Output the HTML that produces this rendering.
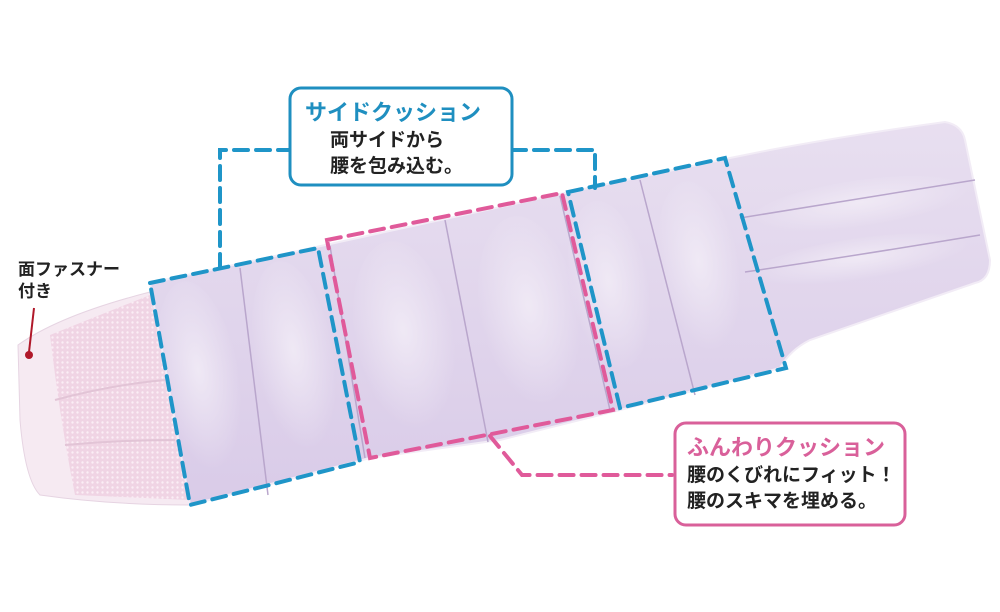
<!DOCTYPE html>
<html><head><meta charset="utf-8"><style>
html,body{margin:0;padding:0;background:#fff;}
svg{display:block}
text{font-family:"Liberation Sans","Noto Sans CJK JP",sans-serif;font-weight:bold}
</style></head><body>
<svg width="1000" height="612" viewBox="0 0 1000 612" xmlns="http://www.w3.org/2000/svg">
<defs>
<pattern id="mesh" width="5" height="5" patternUnits="userSpaceOnUse">
<rect width="5" height="5" fill="#f0d4e4"/><circle cx="2.5" cy="2.5" r="1.2" fill="#fbeef5"/>
</pattern>
<linearGradient id="lav" x1="0" y1="0" x2="0" y2="1">
<stop offset="0" stop-color="#e8dff0"/><stop offset="1" stop-color="#d9cbe8"/>
</linearGradient>
<radialGradient id="hl" cx="0.5" cy="0.45" r="0.5">
<stop offset="0" stop-color="#f1ebf6" stop-opacity="0.9"/><stop offset="1" stop-color="#f1ebf6" stop-opacity="0"/>
</radialGradient>
</defs>
<!-- left pad -->
<path d="M18,345 Q60,315 150,292 L190,505 Q110,505 40,495 Q25,480 20,420 Z" fill="#f6eaf2" stroke="#e6d4e2"/>
<path d="M50,335 L150,295 L190,500 L75,495 Q60,420 50,335 Z" fill="url(#mesh)"/>
<path d="M55,400 Q110,385 165,380 M65,445 Q120,440 175,440" stroke="#e2c4d6" stroke-width="2" fill="none"/>
<!-- lavender body -->
<path d="M150,283 L330,244 L560,194 L730,158 L770,150 Q850,135 945,122 Q962,125 965,140 L990,260 Q990,280 975,283 L810,340 Q790,350 780,368 L620,410 L500,440 L370,458 L190,505 Z" fill="url(#lav)" stroke="#f2ecf6" stroke-width="2"/>
<!-- pillow highlights -->
<g fill="url(#hl)">
<ellipse cx="200" cy="380" rx="40" ry="100" transform="rotate(-10 200 380)"/>
<ellipse cx="295" cy="360" rx="40" ry="100" transform="rotate(-10 295 360)"/>
<ellipse cx="405" cy="340" rx="50" ry="100" transform="rotate(-10 405 340)"/>
<ellipse cx="530" cy="315" rx="50" ry="100" transform="rotate(-10 530 315)"/>
<ellipse cx="610" cy="290" rx="40" ry="90" transform="rotate(-10 610 290)"/>
<ellipse cx="700" cy="270" rx="40" ry="90" transform="rotate(-10 700 270)"/>
<ellipse cx="860" cy="205" rx="110" ry="25" transform="rotate(-8 860 205)"/>
<ellipse cx="860" cy="260" rx="110" ry="22" transform="rotate(-8 860 260)"/>
</g>
<!-- seams -->
<g stroke="#b9a6cc" stroke-width="1.5" fill="none">
<path d="M240,268 L268,495"/>
<path d="M330,246 L365,458"/>
<path d="M445,220 L488,442"/>
<path d="M560,196 L610,410"/>
<path d="M640,180 L695,395"/>
<path d="M740,218 Q850,200 975,180"/>
<path d="M745,272 Q860,255 980,235"/>
</g>
<!-- blue boxes -->
<g stroke="#1f95c8" stroke-width="4" fill="none" stroke-dasharray="14,8" stroke-linecap="round">
<path d="M150,283 L318,248 L360,462 L190,505 Z"/>
<path d="M568,192 L725,158 L786,368 L620,408 Z"/>
<path d="M220,268 L220,150 L290,150"/>
<path d="M512,150 L595,150 L595,188"/>
</g>
<!-- pink -->
<g stroke="#e05a9a" stroke-width="4" fill="none" stroke-dasharray="14,8" stroke-linecap="round">
<path d="M327,240 L562,193 L613,410 L370,458 Z"/>
<path d="M490,436 L522,475 L672,475"/>
</g>
<!-- callouts -->
<rect x="290" y="88" width="222" height="97" rx="11" fill="#fff" stroke="#1f8fc0" stroke-width="3"/>
<text x="305" y="120" font-size="22" fill="#1f8fc0">サイドクッション</text>
<text x="330" y="146" font-size="19" fill="#222">両サイドから</text>
<text x="330" y="172" font-size="19" fill="#222">腰を包み込む。</text>
<rect x="675" y="423" width="230" height="102" rx="11" fill="#fff" stroke="#d9609a" stroke-width="3"/>
<text x="687" y="455" font-size="22" fill="#d9609a">ふんわりクッション</text>
<text x="687" y="481" font-size="19" fill="#222">腰のくびれにフィット！</text>
<text x="687" y="507" font-size="19" fill="#222">腰のスキマを埋める。</text>
<!-- left label -->
<text x="18" y="275" font-size="17" fill="#222">面ファスナー</text>
<text x="18" y="297" font-size="17" fill="#222">付き</text>
<line x1="34" y1="308" x2="29" y2="352" stroke="#b0182a" stroke-width="2"/>
<circle cx="29" cy="355" r="4" fill="#b0182a"/>
</svg>
</body></html>
